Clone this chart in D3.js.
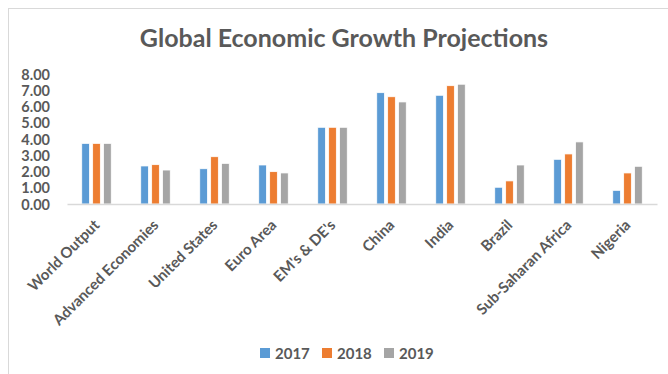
<!DOCTYPE html>
<html>
<head>
<meta charset="utf-8">
<script src="https://cdn.jsdelivr.net/npm/d3@7"></script>
<style>
  body { margin: 0; background: #fff; }
  svg text { font-family: Lato, "Open Sans", sans-serif; font-weight: 700; fill: #595959; }
</style>
</head>
<body>
<svg id="chart" width="668" height="374"></svg>
<script>
const categories = ['World Output', 'Advanced Economies', 'United States', 'Euro Area',
  "EM's & DE's", 'China', 'India', 'Brazil', 'Sub-Saharan Africa', 'Nigeria']
const years = ['2017', '2018', '2019']
const values2017 = [3.73, 2.34, 2.17, 2.40, 4.72, 6.85, 6.69, 1.03, 2.75, 0.84]
const values2018 = [3.73, 2.42, 2.91, 1.99, 4.72, 6.60, 7.28, 1.42, 3.08, 1.91]
const values2019 = [3.73, 2.09, 2.50, 1.91, 4.72, 6.28, 7.37, 2.40, 3.82, 2.32]
const yTicks = [0, 1, 2, 3, 4, 5, 6, 7, 8]
const colors = ['#5B9BD5', '#ED7D31', '#A5A5A5']

const series = [values2017, values2018, values2019]
const svg = d3.select('#chart')

// frame (only left/top edges visible in the original crop)
svg.append('rect')
  .attr('x', 8.5).attr('y', 8.5)
  .attr('width', 700).attr('height', 400)
  .attr('fill', 'none').attr('stroke', '#D9D9D9')

svg.append('text')
  .attr('x', 344).attr('y', 47)
  .attr('text-anchor', 'middle')
  .style('font-size', '25px')
  .text('Global Economic Growth Projections')

const x = d3.scaleBand().domain(categories).range([67, 657])
const y = d3.scaleLinear().domain([0, 8]).range([204, 74])
const x1 = d3.scaleBand().domain(years).range([0, x.bandwidth()])
  .paddingInner(0.3).paddingOuter(1.35)

// y axis labels
const yAxis = svg.append('g')
  .attr('transform', 'translate(50,0)')
  .call(d3.axisLeft(y).tickValues(yTicks).tickFormat(d3.format('.2f')).tickSize(0).tickPadding(0))
yAxis.select('.domain').remove()
yAxis.selectAll('text').style('font-size', '14.5px').attr('dy', '0.36em')

// bars
const groups = svg.append('g').selectAll('g')
  .data(categories)
  .join('g')
  .attr('transform', d => 'translate(' + x(d) + ',0)')

groups.selectAll('rect')
  .data((d, i) => years.map((yr, j) => ({ yr: yr, v: series[j][i], c: colors[j] })))
  .join('rect')
  .attr('x', d => x1(d.yr))
  .attr('width', x1.bandwidth())
  .attr('y', d => y(d.v))
  .attr('height', d => y(0) - y(d.v))
  .attr('fill', d => d.c)
  .attr('stroke', '#fff')
  .attr('stroke-width', 0.75)

// x axis
const xAxis = svg.append('g')
  .attr('transform', 'translate(0,' + y(0) + ')')
  .call(d3.axisBottom(x).tickSize(0).tickPadding(0))
xAxis.select('.domain').attr('stroke', '#D9D9D9').attr('stroke-width', 1.5)
xAxis.selectAll('text')
  .style('font-size', '15px')
  .attr('text-anchor', 'end')
  .attr('dy', null)
  .attr('y', 0)
  .attr('transform', 'translate(4,22) rotate(-45)')

// legend
const legend = svg.append('g')
  .selectAll('g')
  .data(years)
  .join('g')
  .attr('transform', (d, i) => 'translate(' + (260 + i * 62) + ',348)')
legend.append('rect')
  .attr('width', 10).attr('height', 10)
  .attr('fill', (d, i) => colors[i])
legend.append('text')
  .attr('x', 15).attr('y', 11)
  .style('font-size', '15px')
  .text(d => d)
</script>
</body>
</html>
